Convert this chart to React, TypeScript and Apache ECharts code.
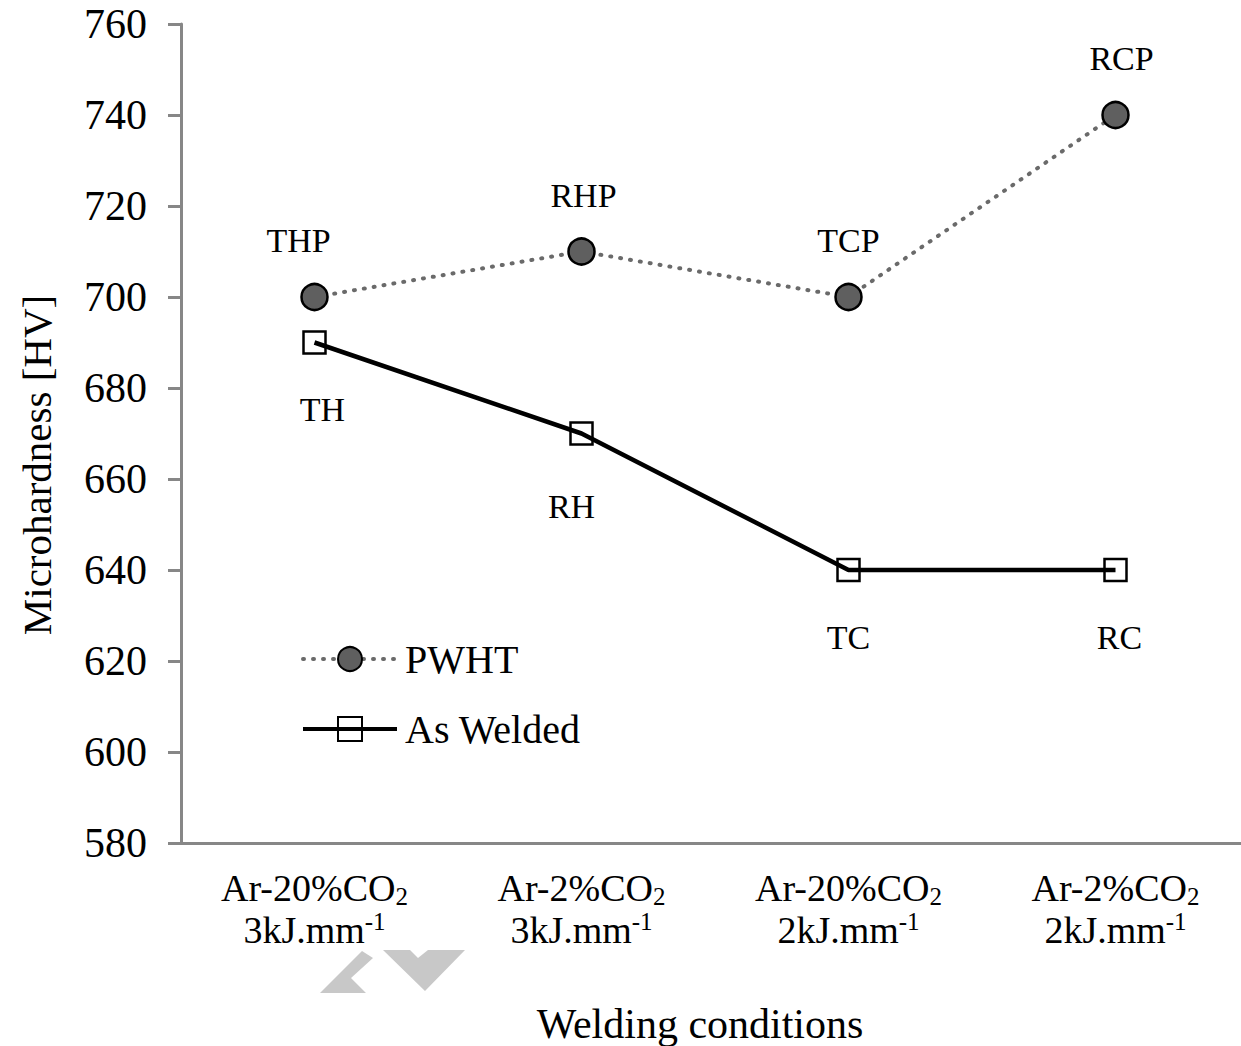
import React, { useEffect, useRef } from "react";
import * as echarts from "echarts";

// Welding conditions along the x axis
const gasMixes = ["Ar-20%", "Ar-2%", "Ar-20%", "Ar-2%"];
const heatInputs = ["3", "3", "2", "2"];
const categories = gasMixes.map((g, i) => `${g}CO2 ${heatInputs[i]}kJ.mm-1`);

// Microhardness [HV]
const pwhtValues = [700, 710, 700, 740];
const asWeldedValues = [690, 670, 640, 640];

// Point tags
const pwhtTags = ["THP", "RHP", "TCP", "RCP"];
const asWeldedTags = ["TH", "RH", "TC", "RC"];

// Y axis ticks
const yMin = 580;
const yMax = 760;
const yStep = 20;

// small nudges for point tags [dx, dy]
const pwhtTagNudge = [[-16, 0], [2, 0], [0, 0], [6, 0]];
const asWeldedTagNudge = [[8, 0], [-10, 6], [0, 0], [4, 0]];

const SERIF = "'Liberation Serif', 'Times New Roman', serif";
const AXIS_GREY = "#878787";

export default function App() {
  const ref = useRef<HTMLDivElement>(null);

  useEffect(() => {
    if (!ref.current) return;
    const chart = echarts.init(ref.current, null, { renderer: "svg" });

    const tagLabel = (offset: number[]) => ({ offset });

    chart.setOption({
      animation: false,
      backgroundColor: "#ffffff",
      // the plot area runs slightly past the right edge of the canvas
      grid: {
        left: 181,
        top: 24,
        width: 1068,
        height: 819,
        containLabel: false,
        outerBoundsMode: "none",
      },
      legend: {
        orient: "vertical",
        left: 296,
        top: 634,
        itemWidth: 94,
        itemHeight: 30,
        itemGap: 30,
        data: ["PWHT", "As Welded"],
        lineStyle: { width: 4 },
        textStyle: {
          fontFamily: SERIF,
          fontSize: 40,
          color: "#000",
          padding: [0, 0, 0, 3],
        },
      },
      xAxis: {
        type: "category",
        data: categories,
        boundaryGap: true,
        axisLine: { show: true, lineStyle: { color: AXIS_GREY, width: 3 } },
        axisTick: { show: false },
        axisLabel: {
          interval: 0,
          margin: 24,
          formatter: (_v: string, i: number) =>
            `{t|${gasMixes[i]}CO}{sub|2}\n{t|${heatInputs[i]}kJ.mm}{sup|-1}`,
          rich: {
            t: { fontFamily: SERIF, fontSize: 38, color: "#000", lineHeight: 42 },
            sub: {
              fontFamily: SERIF,
              fontSize: 25,
              color: "#000",
              lineHeight: 24,
              verticalAlign: "bottom",
            },
            sup: {
              fontFamily: SERIF,
              fontSize: 25,
              color: "#000",
              lineHeight: 24,
              verticalAlign: "top",
            },
          },
        },
      },
      yAxis: {
        type: "value",
        min: yMin,
        max: yMax,
        interval: yStep,
        axisLine: { show: true, lineStyle: { color: AXIS_GREY, width: 3 } },
        axisTick: { show: true, inside: false, length: 13, lineStyle: { color: AXIS_GREY, width: 3 } },
        splitLine: { show: false },
        axisLabel: { fontFamily: SERIF, fontSize: 42, color: "#000", margin: 34 },
      },
      series: [
        {
          name: "PWHT",
          type: "line",
          data: pwhtValues.map((v, i) => ({ value: v, label: tagLabel(pwhtTagNudge[i]) })),
          symbol: "circle",
          symbolSize: 26,
          lineStyle: { color: "#6a6a6a", width: 4, type: [1, 9], cap: "round" },
          itemStyle: { color: "#5f5f5f", borderColor: "#000", borderWidth: 2.5 },
          label: {
            show: true,
            position: "top",
            distance: 25,
            formatter: (p: any) => pwhtTags[p.dataIndex],
            fontFamily: SERIF,
            fontSize: 34,
            color: "#000",
          },
          z: 3,
        },
        {
          name: "As Welded",
          type: "line",
          data: asWeldedValues.map((v, i) => ({ value: v, label: tagLabel(asWeldedTagNudge[i]) })),
          symbol: "rect",
          symbolSize: 22,
          lineStyle: { color: "#000", width: 4.5 },
          itemStyle: { color: "rgba(0,0,0,0)", borderColor: "#000", borderWidth: 2.5 },
          label: {
            show: true,
            position: "bottom",
            distance: 38,
            formatter: (p: any) => asWeldedTags[p.dataIndex],
            fontFamily: SERIF,
            fontSize: 34,
            color: "#000",
          },
          z: 2,
        },
      ],
      graphic: [
        {
          type: "text",
          x: 37,
          y: 465,
          rotation: Math.PI / 2,
          style: {
            text: "Microhardness [HV]",
            fontFamily: SERIF,
            fontSize: 41,
            fill: "#000",
            align: "center",
            verticalAlign: "middle",
          },
        },
        {
          type: "text",
          x: 700,
          y: 1024,
          style: {
            text: "Welding conditions",
            fontFamily: SERIF,
            fontSize: 42,
            fill: "#000",
            align: "center",
            verticalAlign: "middle",
          },
        },
        {
          type: "polygon",
          shape: { points: [[320, 993], [362, 951], [373, 958], [351, 978], [366, 993]] },
          style: { fill: "#c8c8c8" },
        },
        {
          type: "polygon",
          shape: { points: [[383, 950], [410, 950], [418, 958], [428, 950], [465, 950], [425, 991]] },
          style: { fill: "#c8c8c8" },
        },
      ],
    });

    return () => chart.dispose();
  }, []);

  return <div ref={ref} style={{ width: 1241, height: 1046, position: "absolute", left: 0, top: 0 }} />;
}
